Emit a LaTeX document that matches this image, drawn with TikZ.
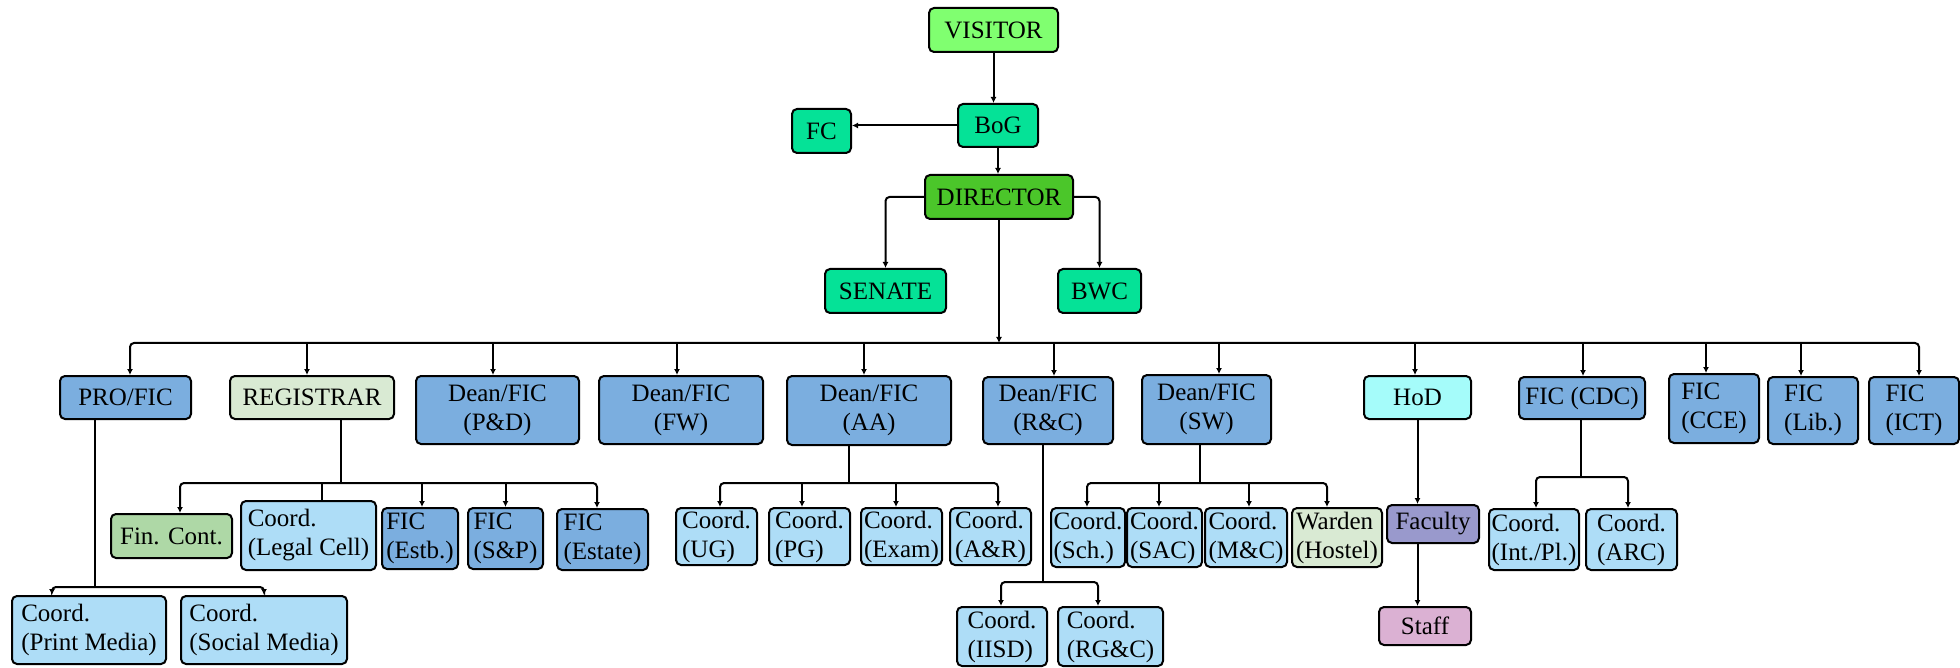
\documentclass[tikz,border=0pt]{standalone}
\usepackage{fontspec}
\setmainfont{Liberation Serif}
\usetikzlibrary{arrows.meta}

\definecolor{visgreen}{HTML}{80FF70}
\definecolor{boardgreen}{HTML}{05E297}
\definecolor{dirgreen}{HTML}{4BC62A}
\definecolor{deanblue}{HTML}{7BAEDF}
\definecolor{coordblue}{HTML}{AEDDF7}
\definecolor{palegreen}{HTML}{D9EAD3}
\definecolor{fingreen}{HTML}{AED8A6}
\definecolor{hodcyan}{HTML}{A5FCFA}
\definecolor{faclilac}{HTML}{9999CC}
\definecolor{staffpink}{HTML}{DBB1D3}

\tikzset{
  box/.style={draw=black, line width=1pt, rounded corners=2.5pt, inner sep=0pt, align=left},
  dean/.style={box, fill=deanblue},
  coord/.style={box, fill=coordblue},
  board/.style={box, fill=boardgreen},
  sz/.style 2 args={minimum width=#1*0.5pt, minimum height=#2*0.5pt},
  link/.style={line width=1pt, rounded corners=2pt},
  >={Latex[length=3pt,width=3pt]}
}

\begin{document}
\begin{tikzpicture}[x=0.5pt, y=-0.5pt, font=\fontsize{12.5}{14.5}\selectfont]
 \useasboundingbox (0,0) rectangle (1960,668);

 % top
 \node[box, fill=visgreen, sz={129}{44}] (visitor) at (993.5,30) {VISITOR};
 \node[board, sz={80}{43}] (bog) at (998,125.5) {BoG};
 \node[board, sz={59}{44}] (fc) at (821.5,131) {FC};
 \node[box, fill=dirgreen, sz={148}{44}] (director) at (999,197) {DIRECTOR};
 \node[board, sz={121}{44}] (senate) at (885.5,291) {SENATE};
 \node[board, sz={83}{44}] (bwc) at (1099.5,291) {BWC};

 % first row
 \node[dean, sz={131}{43}] (pro) at (125.5,397.5) {PRO/FIC};
 \node[box, fill=palegreen, sz={164}{43}] (reg) at (312,397.5) {REGISTRAR};
 \node[dean, align=center, sz={163}{68}] (pd) at (497.5,410) {Dean/FIC\\(P\&D)};
 \node[dean, align=center, sz={164}{68}] (fw) at (681,410) {Dean/FIC\\(FW)};
 \node[dean, align=center, sz={164}{69}] (aa) at (869,410.5) {Dean/FIC\\(AA)};
 \node[dean, align=center, sz={130}{67}] (rc) at (1048,410.5) {Dean/FIC\\(R\&C)};
 \node[dean, align=center, sz={129}{69}] (sw) at (1206.5,409.5) {Dean/FIC\\(SW)};
 \node[box, fill=hodcyan, sz={107}{43}] (hod) at (1417.5,397.5) {HoD};
 \node[dean, sz={126}{42}] (cdc) at (1582,398) {FIC (CDC)};
 \node[dean, sz={90}{69}] (cce) at (1714,408.5) {FIC\\(CCE)};
 \node[dean, sz={90}{67}] (lib) at (1813,410.5) {FIC\\(Lib.)};
 \node[dean, sz={90}{67}] (ict) at (1914,410.5) {FIC\\(ICT)};

 % second row
 \node[box, fill=fingreen, sz={121}{44}] (fin) at (171.5,536) {Fin. Cont.};
 \node[coord, sz={135}{69}] (legal) at (308.5,535.5) {Coord.\\(Legal Cell)};
 \node[dean, sz={76}{61}] (estb) at (420,538.5) {FIC\\(Estb.)};
 \node[dean, sz={75}{61}] (sp) at (505.5,538.5) {FIC\\(S\&P)};
 \node[dean, sz={91}{61}] (estate) at (602.5,539.5) {FIC\\(Estate)};
 \node[coord, sz={81}{57}] (ug) at (716.5,536.5) {Coord.\\(UG)};
 \node[coord, sz={81}{57}] (pg) at (809.5,536.5) {Coord.\\(PG)};
 \node[coord, sz={81}{57}] (exam) at (901.5,536.5) {Coord.\\(Exam)};
 \node[coord, sz={81}{57}] (ar) at (990.5,536.5) {Coord.\\(A\&R)};
 \node[coord, sz={74}{59}] (sch) at (1088,537.5) {Coord.\\(Sch.)};
 \node[coord, sz={75}{59}] (sac) at (1164.5,537.5) {Coord.\\(SAC)};
 \node[coord, sz={82}{59}] (mc) at (1246,537.5) {Coord.\\(M\&C)};
 \node[box, fill=palegreen, sz={90}{59}] (warden) at (1337,537.5) {Warden\\(Hostel)};
 \node[box, fill=faclilac, sz={92}{38}] (faculty) at (1433,524) {Faculty};
 \node[coord, sz={90}{61}] (intpl) at (1534,539.5) {Coord.\\(Int./Pl.)};
 \node[coord, sz={91}{61}] (arc) at (1631.5,539.5) {Coord.\\(ARC)};

 % third row
 \node[coord, sz={154}{68}] (print) at (89,630) {Coord.\\(Print Media)};
 \node[coord, sz={166}{68}] (social) at (264,630) {Coord.\\(Social Media)};
 \node[coord, sz={90}{59}] (iisd) at (1002,636.5) {Coord.\\(IISD)};
 \node[coord, sz={105}{59}] (rgc) at (1110.5,636.5) {Coord.\\(RG\&C)};
 \node[box, fill=staffpink, sz={92}{38}] (staff) at (1425,626) {Staff};

 % top links
 \draw[link,->] (visitor) -- (visitor |- bog.north);
 \draw[link,->] (bog.west) -- (bog.west -| fc.east);
 \draw[link,->] (bog) -- (bog |- director.north);
 \draw[link,->] (director.west) -| (senate.north);
 \draw[link,->] (director.east) -| (bwc.north);

 % main bus
 \path (999,343) coordinate (bus);
 \draw[link,->] (director) -- (bus);
 \foreach \n/\s in {pro/2.25,reg/-2.5,pd/-2.25,fw/-2,aa/-2.5,rc/3,sw/6.25,hod/-1.25,cdc/0.5,cce/-4,lib/-6,ict/2.5,
   print/-18.5,social/0,fin/4.25,legal/6.75,estb/1,sp/0,estate/-2.75,ug/1.75,pg/-3.75,exam/-2.75,ar/3.75,
   iisd/-0.5,rgc/-6.25,sch/-0.5,sac/-2.75,mc/1.5,warden/-5,intpl/1,arc/-1.75}
   \path ([xshift=\s*1pt]\n.north) coordinate (\n-in);
 \draw[link,<->] (pro-in) |- (bus) -| (ict-in);
 \foreach \n in {reg,pd,fw,aa,rc,sw,hod,cdc,cce,lib}
   \draw[link,->] (\n-in |- bus) -- (\n-in);

 % PRO/FIC
 \path ([xshift=-15.25pt]pro.south) coordinate (pro-out) ++(0,167) coordinate (pro-bus);
 \draw[link] (pro-out) -- (pro-bus);
 \draw[link,<->] (print-in) |- (pro-bus) -| (social-in);

 % REGISTRAR
 \path ([xshift=14.5pt]reg.south) coordinate (reg-out) ++(0,63) coordinate (reg-bus);
 \draw[link] (reg-out) -- (reg-bus);
 \draw[link,<->] (fin-in) |- (reg-bus) -| (estate-in);
 \draw[link] (legal-in |- reg-bus) -- (legal-in);
 \foreach \n in {estb,sp}
   \draw[link,->] (\n-in |- reg-bus) -- (\n-in);

 % AA
 \path ([xshift=-10pt]aa.south) coordinate (aa-out) ++(0,37) coordinate (aa-bus);
 \draw[link] (aa-out) -- (aa-bus);
 \draw[link,<->] (ug-in) |- (aa-bus) -| (ar-in);
 \foreach \n in {pg,exam}
   \draw[link,->] (\n-in |- aa-bus) -- (\n-in);

 % R&C
 \path ([xshift=-2.5pt]rc.south) coordinate (rc-out) ++(0,137) coordinate (rc-bus);
 \draw[link] (rc-out) -- (rc-bus);
 \draw[link,<->] (iisd-in) |- (rc-bus) -| (rgc-in);

 % SW
 \path ([xshift=-3.25pt]sw.south) coordinate (sw-out) ++(0,38) coordinate (sw-bus);
 \draw[link] (sw-out) -- (sw-bus);
 \draw[link,<->] (sch-in) |- (sw-bus) -| (warden-in);
 \foreach \n in {sac,mc}
   \draw[link,->] (\n-in |- sw-bus) -- (\n-in);

 % HoD
 \draw[link,->] (hod) -- (hod |- faculty.north);
 \draw[link,->] (hod |- faculty.south) -- (hod |- staff.north);

 % CDC
 \path ([xshift=-0.5pt]cdc.south) coordinate (cdc-out) ++(0,57) coordinate (cdc-bus);
 \draw[link] (cdc-out) -- (cdc-bus);
 \draw[link,<->] (intpl-in) |- (cdc-bus) -| (arc-in);

\end{tikzpicture}
\end{document}
